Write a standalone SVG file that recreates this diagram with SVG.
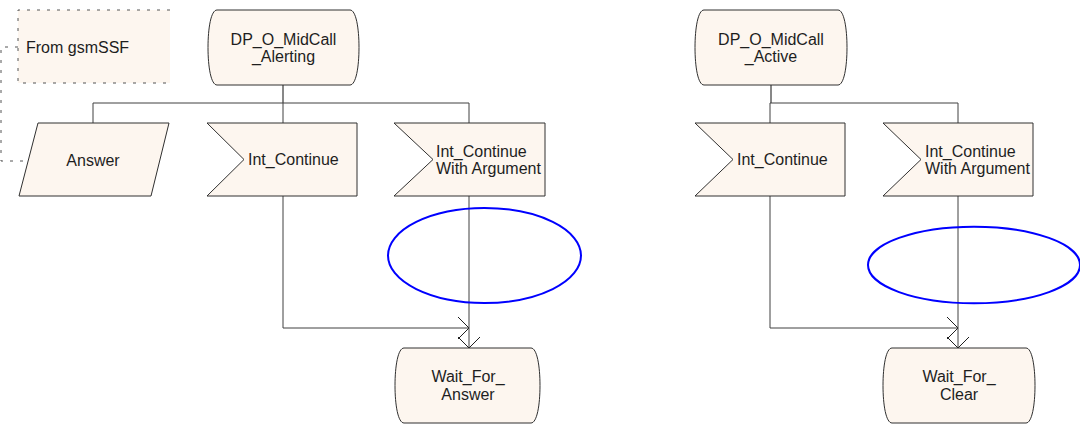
<svg xmlns="http://www.w3.org/2000/svg" width="1080" height="428" viewBox="0 0 1080 428">
<style>
.shape{fill:#fdf6ef;stroke:#303030;stroke-width:1}
.lbl{font-family:"Liberation Sans",Arial,sans-serif;font-size:16px;fill:#1e1e1e}
.mid{text-anchor:middle}
.conn{fill:none;stroke:#404040;stroke-width:1}
.dash{fill:none;stroke:#555555;stroke-width:1;stroke-dasharray:3,7}
.ell{fill:none;stroke:#0000ff;stroke-width:2}
</style>
<defs>
<marker id="open" viewBox="0 0 12 24" refX="11" refY="11" markerWidth="12" markerHeight="24" markerUnits="userSpaceOnUse" orient="auto">
<path d="M0,0 L11,11 L0,22" fill="none" stroke="#202020" stroke-width="1"/>
</marker>
</defs>
<rect width="1080" height="428" fill="#ffffff"/>

<g id="connectors">
<path class="conn" d="M283,85 V103" stroke-width="1.5" style="stroke:#101010"/>
<path class="conn" d="M93,123 V103 H469 V123"/>
<path class="conn" d="M283,103 V123"/>
<path class="conn" d="M283,196 V328 H469" marker-end="url(#open)"/>
<path class="conn" d="M469,196 V348" marker-end="url(#open)"/>
<path class="conn" d="M771,85 V103" stroke-width="1.5" style="stroke:#101010"/>
<path class="conn" d="M770,123 V103 H958 V123"/>
<path class="conn" d="M770,196 V328 H958" marker-end="url(#open)"/>
<path class="conn" d="M958,196 V348" marker-end="url(#open)"/>
<path class="dash" d="M18,47 H1 V161 H27"/>
</g>

<g id="comment_from_gsmSSF">
<rect x="18" y="10" width="152" height="73" fill="#fdf6ef"/>
<path class="dash" d="M170,10 H18 V83 H170"/>
<text class="lbl" x="26" y="53">From gsmSSF</text>
</g>

<g id="state_alerting">
<path class="shape" d="M217,10 H350 C356,10 359,28 359,47.5 C359,67 356,85 350,85 H217 C211,85 208,67 208,47.5 C208,28 211,10 217,10 Z"/>
<text class="lbl mid" x="283.5" y="45">DP_O_MidCall</text>
<text class="lbl mid" x="283.5" y="62">_Alerting</text>
</g>

<g id="input_answer">
<path class="shape" d="M38,123 H169 L151,196 H19 Z"/>
<text class="lbl mid" x="93" y="166">Answer</text>
</g>

<g id="input_int_continue_1">
<path class="shape" d="M207,123 H357 V196 H207 L244,159.5 Z"/>
<text class="lbl" x="248" y="165">Int_Continue</text>
</g>

<g id="input_int_continue_arg_1">
<path class="shape" d="M394,123 H545 V196 H394 L433,159.5 Z"/>
<text class="lbl" x="436" y="157">Int_Continue</text>
<text class="lbl" x="436" y="174">With Argument</text>
</g>

<g id="ellipse_1">
<ellipse class="ell" cx="484.5" cy="255.5" rx="96.5" ry="47.5"/>
</g>

<g id="state_wait_for_answer">
<path class="shape" d="M404,348 H531 C537,348 540,366 540,385.5 C540,405 537,423 531,423 H404 C398,423 395,405 395,385.5 C395,366 398,348 404,348 Z"/>
<text class="lbl mid" x="468" y="382">Wait_For_</text>
<text class="lbl mid" x="468" y="399.5">Answer</text>
</g>

<g id="state_active">
<path class="shape" d="M704,10 H838 C844,10 847,28 847,47.5 C847,67 844,85 838,85 H704 C698,85 695,67 695,47.5 C695,28 698,10 704,10 Z"/>
<text class="lbl mid" x="771" y="45">DP_O_MidCall</text>
<text class="lbl mid" x="771" y="62">_Active</text>
</g>

<g id="input_int_continue_2">
<path class="shape" d="M695,123 H845 V196 H695 L733,159.5 Z"/>
<text class="lbl" x="737" y="165">Int_Continue</text>
</g>

<g id="input_int_continue_arg_2">
<path class="shape" d="M883,123 H1033 V196 H883 L921,159.5 Z"/>
<text class="lbl" x="925" y="157">Int_Continue</text>
<text class="lbl" x="925" y="174">With Argument</text>
</g>

<g id="ellipse_2">
<ellipse class="ell" cx="974" cy="265" rx="106" ry="38.3"/>
</g>

<g id="state_wait_for_clear">
<path class="shape" d="M892,348 H1026 C1032,348 1035,366 1035,385.5 C1035,405 1032,423 1026,423 H892 C886,423 883,405 883,385.5 C883,366 886,348 892,348 Z"/>
<text class="lbl mid" x="959" y="382">Wait_For_</text>
<text class="lbl mid" x="959" y="399.5">Clear</text>
</g>
</svg>
